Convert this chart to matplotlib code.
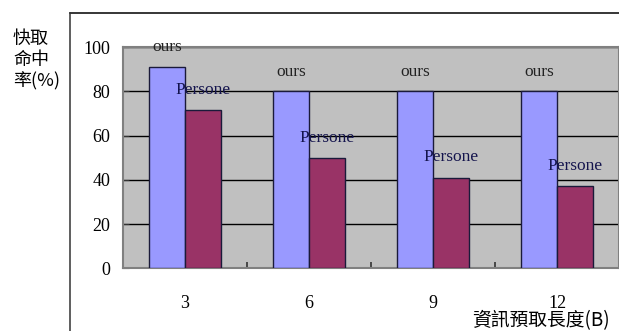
import numpy as np
import matplotlib.pyplot as plt
from matplotlib.lines import Line2D

block_sizes = ['3', '6', '9', '12']
ours_hit = [91, 80, 80, 80]
persone_hit = [71.5, 50, 41, 37]
y_ticks = [0, 20, 40, 60, 80, 100]

serif = ['Liberation Serif', 'DejaVu Serif']
cjk = ['Noto Sans CJK TC', 'DejaVu Sans']

fig = plt.figure(figsize=(6.19, 3.31), dpi=100)
ax = fig.add_axes([123 / 619, 1 - 268.3 / 331, 1 - 123 / 619, 221.3 / 331])
ax.set_facecolor('#C0C0C0')

x = np.arange(len(block_sizes))
w = 0.29
b1 = ax.bar(x - w / 2, ours_hit, w, color='#9999FF', edgecolor='#1a1a3a', linewidth=1, zorder=3)
b2 = ax.bar(x + w / 2, persone_hit, w, color='#993366', edgecolor='#1a1a3a', linewidth=1, zorder=3)

for rect, v in zip(b1, ours_hit):
    ax.annotate('ours', (rect.get_x() + rect.get_width() / 2, v), xytext=(0, 14),
                textcoords='offset points', ha='center', va='center',
                fontsize=12.5, family=serif, color='#222222', zorder=4)
for rect, v in zip(b2, persone_hit):
    ax.annotate('Persone', (rect.get_x() + rect.get_width() / 2, v), xytext=(0, 14.5),
                textcoords='offset points', ha='center', va='center',
                fontsize=12.5, family=serif, color='#14144d', zorder=4)

ax.set_xlim(-0.5, len(block_sizes) - 0.5)
ax.set_ylim(0, 100)
ax.set_yticks(y_ticks)
ax.set_yticklabels([str(t) for t in y_ticks], family=serif, fontsize=13)
ax.set_xticks(x)
ax.set_xticklabels(block_sizes, family=serif, fontsize=13)
ax.set_xticks(x[:-1] + 0.5, minor=True)
ax.tick_params(axis='x', which='major', length=0, pad=19)
ax.tick_params(axis='x', which='minor', direction='in', length=4, width=1.2, color='#333333')
ax.tick_params(axis='y', direction='in', length=4, pad=9, color='#333333')
ax.grid(axis='y', color='black', linewidth=1, zorder=1)
for s in ax.spines.values():
    s.set_color('#808080')
    s.set_linewidth(1.5)

# outer frame lines
fig.add_artist(Line2D([70 / 619, 1], [1 - 13 / 331, 1 - 13 / 331], color='black', linewidth=1.1))
fig.add_artist(Line2D([70 / 619, 70 / 619], [0, 1 - 13 / 331], color='#333333', linewidth=1.1))

fig.text(13 / 619, 1 - 30 / 331, '快取\n命中\n率(%)', family=cjk, fontsize=13,
         va='top', ha='left', linespacing=1.22)
fig.text(472 / 619, 1 - 310 / 331, '資訊預取長度(B)', family=cjk, fontsize=13.5,
         va='top', ha='left')

fig.savefig('out.png', dpi=100)
